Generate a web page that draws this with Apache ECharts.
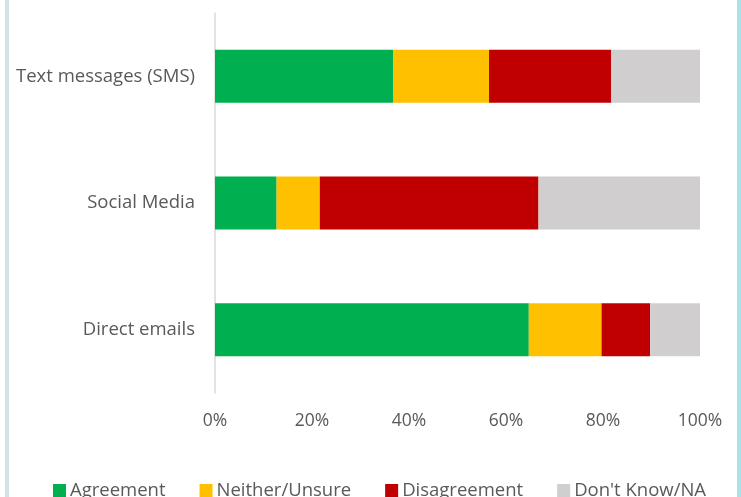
<!DOCTYPE html>
<html><head><meta charset="utf-8">
<script src="https://cdn.jsdelivr.net/npm/echarts@6/dist/echarts.min.js"></script>
<style>html,body{margin:0;padding:0;background:#fff}#c{width:741px;height:497px}</style>
</head><body><div id="c"></div>
<script>
const categories = ['Direct emails', 'Social Media', 'Text messages (SMS)'];
const seriesNames = ['Agreement', 'Neither/Unsure', 'Disagreement', "Don't Know/NA"];
const agreement = [64.7, 12.7, 36.7];
const neither = [15.0, 8.9, 19.8];
const disagreement = [10.0, 45.1, 25.2];
const dontKnow = [10.3, 33.3, 18.3];
const colors = ['#00B050', '#FFC000', '#C00000', '#D0CECE'];
const xTicks = [0, 20, 40, 60, 80, 100];

const values = [agreement, neither, disagreement, dontKnow];
const chart = echarts.init(document.getElementById('c'));
const font = '"Open Sans", sans-serif';
chart.setOption({
  animation: false,
  textStyle: { fontFamily: font },
  graphic: [
    { type: 'rect', shape: { x: 5, y: 0, width: 4, height: 497 }, style: { fill: '#d3e3e5' } },
    { type: 'rect', shape: { x: 737, y: 0, width: 4, height: 497 }, style: { fill: '#a9e2ea' } }
  ],
  grid: { left: 215, right: 41, top: 13, bottom: 104, containLabel: false },
  legend: {
    left: 48, top: 476,
    itemWidth: 13, itemHeight: 13, itemGap: 34,
    icon: 'rect',
    textStyle: { fontSize: 18.5, color: '#595959', fontFamily: font, padding: [0, 0, 0, -1] },
    data: seriesNames
  },
  xAxis: {
    type: 'value', min: 0, max: 100, interval: 20,
    axisLine: { show: false }, axisTick: { show: false }, splitLine: { show: false },
    axisLabel: { margin: 19, fontSize: 17.5, color: '#595959', fontFamily: font,
      formatter: v => xTicks.includes(v) ? v + '%' : '' }
  },
  yAxis: {
    type: 'category', data: categories,
    axisLine: { show: true, lineStyle: { color: '#d9d9d9', width: 1.5 } },
    axisTick: { show: false },
    axisLabel: { margin: 20, fontSize: 18.5, color: '#595959', fontFamily: font }
  },
  series: seriesNames.map((n, i) => ({
    name: n, type: 'bar', stack: 'total', barWidth: 53,
    itemStyle: { color: colors[i] },
    data: values[i]
  }))
});
</script></body></html>
